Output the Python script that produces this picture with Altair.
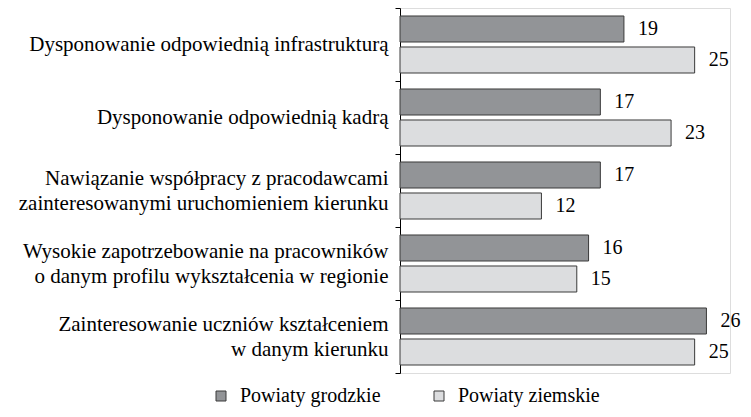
import altair as alt
import pandas as pd

categories = [
    "Dysponowanie odpowiednią infrastrukturą",
    "Dysponowanie odpowiednią kadrą",
    "Nawiązanie współpracy z pracodawcami|zainteresowanymi uruchomieniem kierunku",
    "Wysokie zapotrzebowanie na pracowników|o danym profilu wykształcenia w regionie",
    "Zainteresowanie uczniów kształceniem|w danym kierunku",
]
series = ["Powiaty grodzkie", "Powiaty ziemskie"]
grodzkie = [19, 17, 17, 16, 26]
ziemskie = [25, 23, 12, 15, 25]
colors = ["#929497", "#dcdddf"]

rows = []
for i, c in enumerate(categories):
    rows.append({"cat": c, "series": series[0], "value": grodzkie[i]})
    rows.append({"cat": c, "series": series[1], "value": ziemskie[i]})
df = pd.DataFrame(rows)

FONT = "Liberation Serif, Times New Roman, serif"

y = alt.Y("cat:N", sort=categories,
          scale=alt.Scale(paddingInner=0, paddingOuter=0),
          axis=alt.Axis(title=None, labelExpr="split(datum.label, '|')",
                        labelFont=FONT, labelFontSize=21, labelColor="#000000",
                        labelLineHeight=25, labelLimit=600, labelPadding=7,
                        labelOffset={"condition": {"test": "indexof(datum.label, '|') >= 0",
                                                   "value": -12},
                                     "value": 0},
                        tickSize=5, tickColor="#000000", domainColor="#000000",
                        tickBand="extent", labelAlign="right"))
yoff = alt.YOffset("series:N", sort=series,
                   scale=alt.Scale(paddingInner=0.161, paddingOuter=0.258))
x = alt.X("value:Q", scale=alt.Scale(domain=[0, 28], nice=False), axis=None)

bars = alt.Chart(df).mark_bar(stroke="#3a3a3a", strokeWidth=1).encode(
    y=y, yOffset=yoff, x=x,
    fill=alt.Fill("series:N", sort=series,
                  scale=alt.Scale(domain=series, range=colors),
                  legend=alt.Legend(title=None, orient="none", direction="horizontal",
                                    legendX=-189, legendY=378,
                                    symbolType="square", symbolSize=100,
                                    symbolStrokeColor="#3a3a3a", symbolStrokeWidth=1,
                                    labelFont=FONT, labelFontSize=20, labelColor="#000000",
                                    labelOffset=9, columnPadding=48)),
)

labels = alt.Chart(df).mark_text(align="left", baseline="middle", dx=14,
                                 font=FONT, fontSize=20, color="#000000").encode(
    y=alt.Y("cat:N", sort=categories), yOffset=alt.YOffset("series:N", sort=series),
    x="value:Q", text="value:Q",
)

chart = alt.layer(bars, labels).properties(
    width=330, height=365,
    autosize=alt.AutoSizeParams(type="none"),
    padding={"left": 392, "top": 0, "right": 13, "bottom": 35},
).configure_view(stroke=None).configure(background="white")

chart.save("out.html", embed_options={"renderer": "svg", "actions": False})
